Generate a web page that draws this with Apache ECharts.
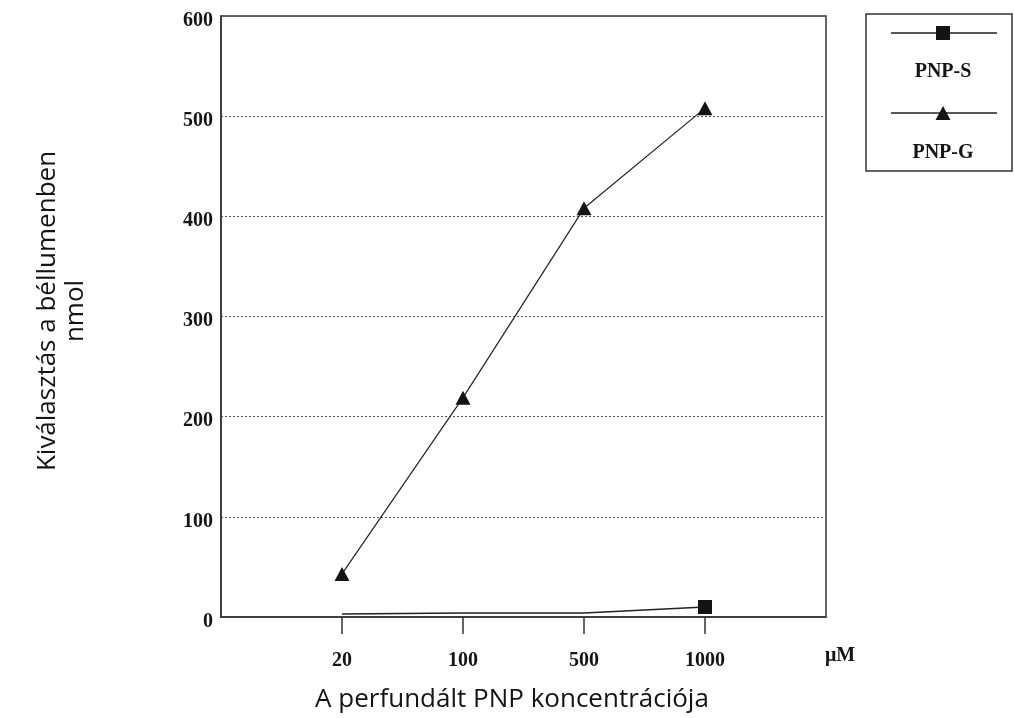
<!DOCTYPE html>
<html>
<head>
<meta charset="utf-8">
<style>
  html, body { margin: 0; padding: 0; background: #ffffff; }
  #chart { width: 1014px; height: 718px; }
</style>
<script src="https://cdn.jsdelivr.net/npm/echarts@6/dist/echarts.min.js"></script>
</head>
<body>
<div id="chart"></div>
<script>
// Perfused PNP concentration (µM) and secreted amount (nmol)
const categories = ['20', '100', '500', '1000'];
const unitLabel = 'μM';
const seriesNames = ['PNP-S', 'PNP-G'];
const pnpS = [3, 4, 4, 10];
const pnpG = [43, 219, 408, 508];
const yTicks = [0, 100, 200, 300, 400, 500, 600];
const xTitle = 'A perfundált PNP koncentrációja';
const yTitle = ['Kiválasztás a béllumenben', 'nmol'];

const ink = '#141414';
const frame = '#333333';
const serif = '"Liberation Serif", "Times New Roman", serif';
const sans = '"Open Sans", "Noto Sans", sans-serif';

// one empty slot on each side of the categories
const axisData = [' ', ...categories, '  '];
const pad = arr => [null, ...arr, null];

const chart = echarts.init(document.getElementById('chart'), null, { renderer: 'canvas' });

const legendX = 943;
const option = {
  backgroundColor: '#ffffff',
  animation: false,
  grid: {
    left: 221, right: 188, top: 16, bottom: 101,
    show: true, borderColor: frame, borderWidth: 1.5, backgroundColor: 'transparent'
  },
  xAxis: {
    type: 'category',
    data: axisData,
    boundaryGap: false,
    axisLine: { lineStyle: { color: frame, width: 1.5 } },
    axisTick: {
      show: true, length: 17, inside: false,
      interval: (i, v) => v.trim() !== '',
      lineStyle: { color: frame, width: 1.5 }
    },
    axisLabel: {
      interval: 0,
      margin: 34,
      color: ink,
      fontFamily: serif,
      fontWeight: 'bold',
      fontSize: 20,
      formatter: v => v.trim()
    },
    splitLine: { show: false }
  },
  yAxis: {
    type: 'value',
    min: yTicks[0],
    max: yTicks[yTicks.length - 1],
    interval: 100,
    axisLine: { show: true, lineStyle: { color: frame, width: 1.5 } },
    axisTick: { show: false },
    axisLabel: {
      margin: 8,
      formatter: v => '{n|' + v + '}',
      rich: {
        n: {
          color: ink,
          fontFamily: serif,
          fontWeight: 'bold',
          fontSize: 20,
          padding: [9, 0, 0, 0]
        }
      }
    },
    splitLine: { show: true, lineStyle: { color: '#555', type: [2, 2], width: 1 } }
  },
  series: [
    {
      name: seriesNames[0],
      type: 'line',
      data: pad(pnpS),
      symbol: 'rect',
      symbolSize: (v, p) => (p.dataIndex === pnpS.length ? 14 : 0),
      itemStyle: { color: ink },
      lineStyle: { color: '#222', width: 1.3 },
      z: 3
    },
    {
      name: seriesNames[1],
      type: 'line',
      data: pad(pnpG),
      symbol: 'triangle',
      symbolSize: [15, 14],
      itemStyle: { color: ink },
      lineStyle: { color: '#222', width: 1.2 },
      z: 4
    }
  ],
  graphic: [
    // axis titles
    {
      type: 'text',
      style: {
        x: 512, y: 700, text: xTitle, fill: ink,
        font: '26px ' + sans, textAlign: 'center', textVerticalAlign: 'middle'
      }
    },
    {
      type: 'text',
      x: 62, y: 311,
      rotation: Math.PI / 2,
      style: {
        text: yTitle.join('\n'), fill: ink,
        font: '26px ' + sans, lineHeight: 28,
        textAlign: 'center', textVerticalAlign: 'middle'
      }
    },
    // unit at the end of the x axis
    {
      type: 'text',
      style: {
        x: 840, y: 656, text: unitLabel, fill: ink,
        font: 'bold 20px ' + serif, textAlign: 'center', textVerticalAlign: 'middle'
      }
    },
    // legend box
    {
      type: 'rect',
      shape: { x: 866, y: 14, width: 146, height: 157 },
      style: { fill: 'none', stroke: frame, lineWidth: 1.5 }
    },
    {
      type: 'line',
      shape: { x1: 891, y1: 33, x2: 997, y2: 33 },
      style: { stroke: '#222', lineWidth: 1.5 }
    },
    {
      type: 'rect',
      shape: { x: legendX - 7, y: 26, width: 14, height: 14 },
      style: { fill: ink }
    },
    {
      type: 'text',
      style: {
        x: legendX, y: 72, text: seriesNames[0], fill: ink,
        font: 'bold 20px ' + serif, textAlign: 'center', textVerticalAlign: 'middle'
      }
    },
    {
      type: 'line',
      shape: { x1: 891, y1: 113, x2: 997, y2: 113 },
      style: { stroke: '#222', lineWidth: 1.5 }
    },
    {
      type: 'polygon',
      shape: { points: [[legendX, 106], [legendX + 7.5, 120], [legendX - 7.5, 120]] },
      style: { fill: ink }
    },
    {
      type: 'text',
      style: {
        x: legendX, y: 153, text: seriesNames[1], fill: ink,
        font: 'bold 20px ' + serif, textAlign: 'center', textVerticalAlign: 'middle'
      }
    }
  ]
};

chart.setOption(option);
</script>
</body>
</html>
